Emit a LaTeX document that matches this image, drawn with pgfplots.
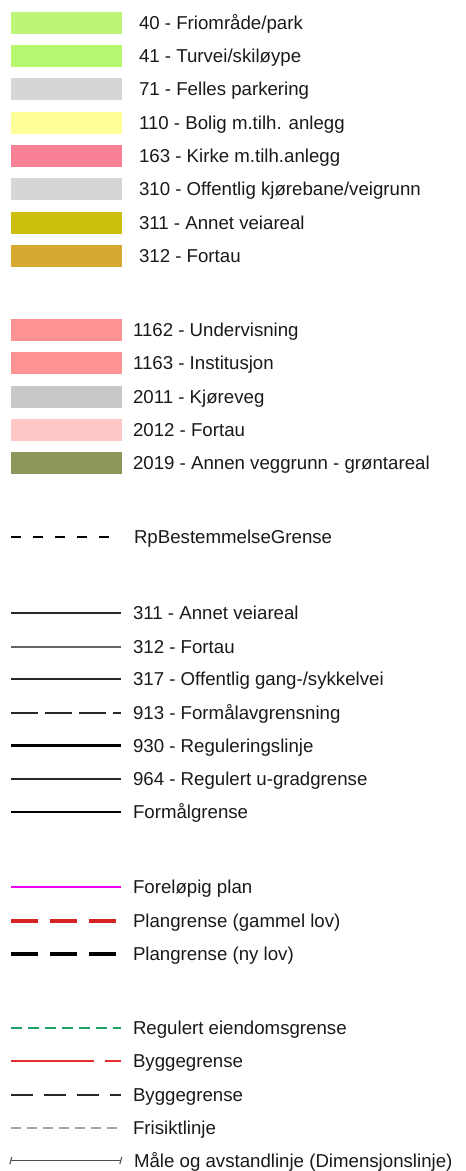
\documentclass[border=0pt]{standalone}
\usepackage{pgfplots}
\pgfplotsset{compat=1.18}
\usepackage{fontspec}
\setmainfont{Liberation Sans}
\definecolor{c40}{RGB}{188,245,120}
\definecolor{c41}{RGB}{182,248,112}
\definecolor{c71}{RGB}{214,214,214}
\definecolor{c110}{RGB}{255,255,153}
\definecolor{c163}{RGB}{250,128,150}
\definecolor{c310}{RGB}{214,214,214}
\definecolor{c311}{RGB}{204,190,12}
\definecolor{c312}{RGB}{214,170,48}
\definecolor{c1162}{RGB}{252,146,146}
\definecolor{c1163}{RGB}{252,146,146}
\definecolor{c2011}{RGB}{200,200,200}
\definecolor{c2012}{RGB}{255,200,200}
\definecolor{c2019}{RGB}{143,150,90}
\definecolor{txt}{RGB}{25,25,25}
\definecolor{darkln}{RGB}{40,40,40}
\definecolor{midln}{RGB}{100,100,100}
\definecolor{magln}{RGB}{240,0,240}
\definecolor{redpl}{RGB}{212,36,36}
\definecolor{greenln}{RGB}{30,160,105}
\definecolor{redbg}{RGB}{232,45,45}
\definecolor{grayln}{RGB}{165,165,165}
\definecolor{maleln}{RGB}{80,80,80}
\tikzset{lbl/.style={anchor=base west, text=txt, font=\fontsize{14}{16}\selectfont, inner sep=0pt}}
\begin{document}
\begin{tikzpicture}
\begin{axis}[
  x=0.75pt, y=0.75pt, y dir=reverse,
  xmin=0, xmax=464, ymin=0, ymax=1171,
  axis lines=none, clip=false,
]
\addplot[draw=none, forget plot] coordinates {(0,0) (464,1171)};
% --- area swatches (x from 9 to 120, height 22 px) ---
\pgfplotsset{sw/.style={line width=16.2pt, line cap=butt}}
\addplot[sw, c40]   coordinates {(9,23)  (120,23)};
\addplot[sw, c41]   coordinates {(9,56)  (120,56)};
\addplot[sw, c71]   coordinates {(9,89)  (120,89)};
\addplot[sw, c110]  coordinates {(9,123) (120,123)};
\addplot[sw, c163]  coordinates {(9,156) (120,156)};
\addplot[sw, c310]  coordinates {(9,189) (120,189)};
\addplot[sw, c311]  coordinates {(9,223) (120,223)};
\addplot[sw, c312]  coordinates {(9,256) (120,256)};
\addplot[sw, c1162] coordinates {(9,330) (120,330)};
\addplot[sw, c1163] coordinates {(9,363) (120,363)};
\addplot[sw, c2011] coordinates {(9,397) (120,397)};
\addplot[sw, c2012] coordinates {(9,430) (120,430)};
\addplot[sw, c2019] coordinates {(9,463) (120,463)};
\node[lbl] at (axis cs:137,29.5)  {40 - Friområde/park};
\node[lbl] at (axis cs:137,62.5)  {41 - Turvei/skiløype};
\node[lbl] at (axis cs:137,95.5)  {71 - Felles parkering};
\node[lbl] at (axis cs:137,129.5) {110 - Bolig m.tilh. anlegg};
\node[lbl] at (axis cs:137,162.5) {163 - Kirke m.tilh.anlegg};
\node[lbl] at (axis cs:137,195.5) {310 - Offentlig kjørebane/veigrunn};
\node[lbl] at (axis cs:137,229.5) {311 - Annet veiareal};
\node[lbl] at (axis cs:137,262.5) {312 - Fortau};
\node[lbl] at (axis cs:131,336.5) {1162 - Undervisning};
\node[lbl] at (axis cs:131,369.5) {1163 - Institusjon};
\node[lbl] at (axis cs:131,403.5) {2011 - Kjøreveg};
\node[lbl] at (axis cs:131,436.5) {2012 - Fortau};
\node[lbl] at (axis cs:131,469.5) {2019 - Annen veggrunn - grøntareal};
% --- RpBestemmelseGrense ---
\addplot[black, line width=1.6pt, dash pattern=on 7.5pt off 9pt] coordinates {(9,537.5) (108,537.5)};
\node[lbl] at (axis cs:132,544) {RpBestemmelseGrense};
% --- line block ---
\addplot[darkln, line width=1.3pt] coordinates {(9,613) (119,613)};
\addplot[midln,  line width=1.1pt] coordinates {(9,647) (119,647)};
\addplot[darkln, line width=1.3pt] coordinates {(9,679) (119,679)};
\addplot[darkln, line width=1.2pt, dash pattern=on 20.25pt off 5.25pt] coordinates {(9,713) (119,713)};
\addplot[black,  line width=2.5pt] coordinates {(9,746) (119,746)};
\addplot[darkln, line width=1.2pt] coordinates {(9,779) (119,779)};
\addplot[black,  line width=1.7pt] coordinates {(9,812) (119,812)};
\node[lbl] at (axis cs:131,619.5) {311 - Annet veiareal};
\node[lbl] at (axis cs:131,653.5) {312 - Fortau};
\node[lbl] at (axis cs:131,685.5) {317 - Offentlig gang-/sykkelvei};
\node[lbl] at (axis cs:131,719.5) {913 - Formålavgrensning};
\node[lbl] at (axis cs:131,752.5) {930 - Reguleringslinje};
\node[lbl] at (axis cs:131,785.5) {964 - Regulert u-gradgrense};
\node[lbl] at (axis cs:131,818.5) {Formålgrense};
% --- plan block ---
\addplot[magln, line width=1.4pt] coordinates {(9,887) (119,887)};
\addplot[redpl, line width=3pt, dash pattern=on 20.25pt off 9pt] coordinates {(9,921) (114,921)};
\addplot[black, line width=3pt, dash pattern=on 20.25pt off 9pt] coordinates {(9,954) (114,954)};
\node[lbl] at (axis cs:131,893.5) {Foreløpig plan};
\node[lbl] at (axis cs:131,927.5) {Plangrense (gammel lov)};
\node[lbl] at (axis cs:131,960.5) {Plangrense (ny lov)};
% --- last block ---
\addplot[greenln, line width=1.5pt, dash pattern=on 8.25pt off 4.5pt] coordinates {(9,1028) (119,1028)};
\addplot[redbg, line width=1.3pt, dash pattern=on 62.25pt off 8.25pt] coordinates {(9,1061) (119,1061)};
\addplot[darkln, line width=1.4pt, dash pattern=on 16.5pt off 8.25pt] coordinates {(9,1095) (119,1095)};
\addplot[grayln, line width=1.4pt, dash pattern=on 7.5pt off 4.5pt] coordinates {(9,1128) (119,1128)};
\addplot[maleln, line width=1.1pt] coordinates {(9,1161) (119,1161)};
\addplot[maleln, line width=0.8pt] coordinates {(8,1164.5) (10,1157.5)};
\addplot[maleln, line width=0.8pt] coordinates {(118,1164.5) (120,1157.5)};
\node[lbl] at (axis cs:131,1034.5) {Regulert eiendomsgrense};
\node[lbl] at (axis cs:131,1067.5) {Byggegrense};
\node[lbl] at (axis cs:131,1101.5) {Byggegrense};
\node[lbl] at (axis cs:131,1134.5) {Frisiktlinje};
\node[lbl] at (axis cs:132,1167.5) {Måle og avstandlinje (Dimensjonslinje)};
\end{axis}
\end{tikzpicture}
\end{document}
